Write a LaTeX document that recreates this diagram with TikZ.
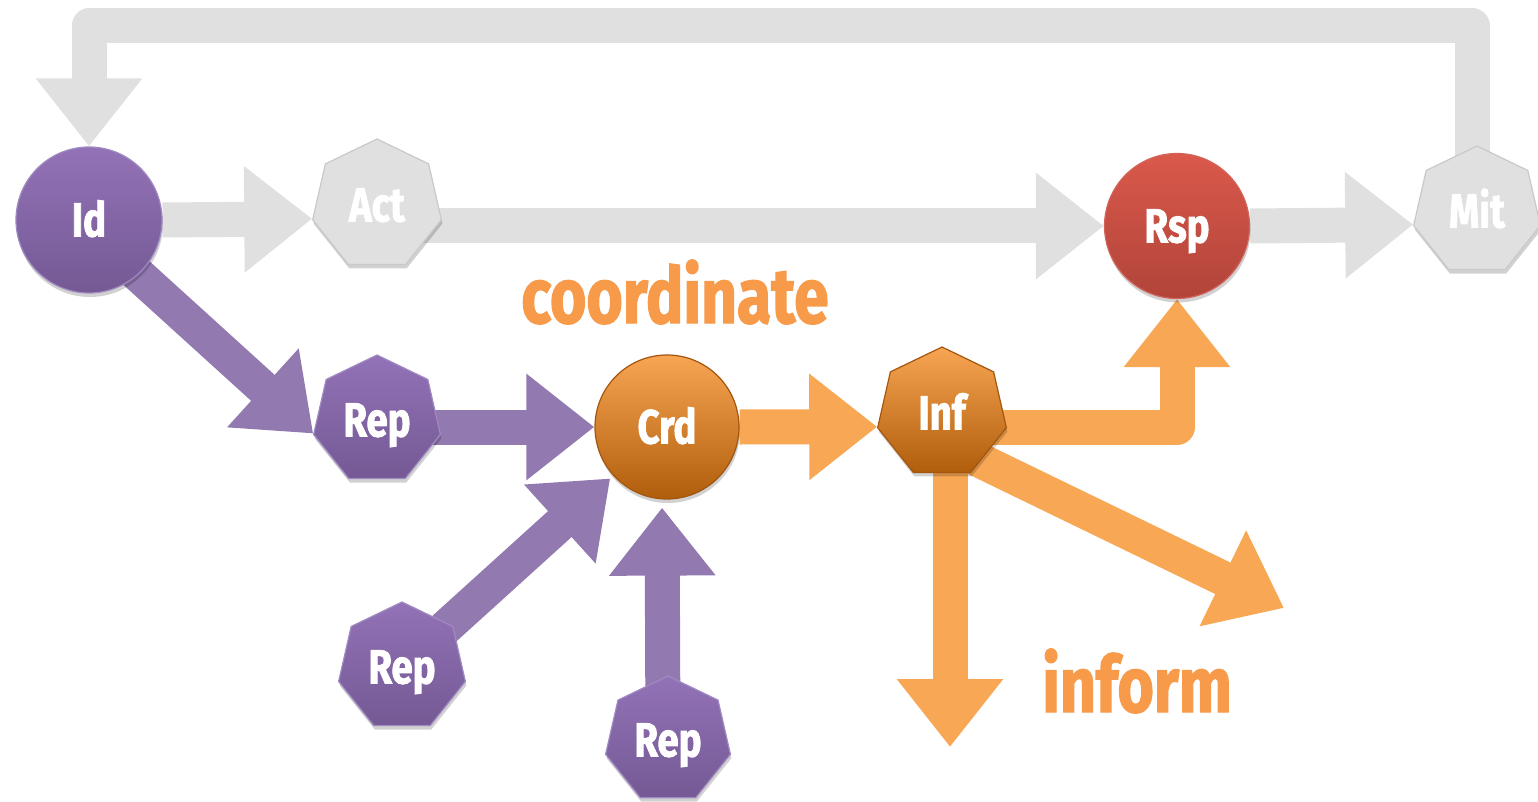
\documentclass[tikz,border=0pt]{standalone}
\usepackage{fontspec}
\newfontfamily\lblfont[FakeStretch=0.8, BoldFeatures={FakeBold=1.6}]{Fira Sans}
\usetikzlibrary{shapes.geometric,arrows.meta,backgrounds,shadows}
\definecolor{pTop}{HTML}{9372B7}
\definecolor{pBot}{HTML}{745994}
\definecolor{pBorder}{HTML}{A08AC2}
\definecolor{pArrow}{HTML}{927AB0}
\definecolor{gFill}{HTML}{E0E0E0}
\definecolor{gBorder}{HTML}{C9C9C9}
\definecolor{oArrow}{HTML}{F8A855}
\definecolor{oTop}{HTML}{F7A552}
\definecolor{oBot}{HTML}{B05E0C}
\definecolor{oBorder}{HTML}{A4560E}
\definecolor{rTop}{HTML}{DA594B}
\definecolor{rBot}{HTML}{B1443A}
\definecolor{rBorder}{HTML}{D2645B}
\definecolor{oText}{HTML}{F79A49}
\tikzset{
  lbl/.style={font=\lblfont\bfseries\fontsize{48}{48}\selectfont, text=white, text height=33pt, text depth=0pt, inner sep=0pt},
  shd/.style={drop shadow={shadow xshift=1pt, shadow yshift=-4pt, opacity=0.18, fill=black}},
  circnode/.style={circle, lbl, shd, line width=1.2pt},
  heptnode/.style={regular polygon, regular polygon sides=7, lbl, shd, line width=1.2pt, minimum size=#1},
  blk/.style={line width=35pt, -{Triangle[length=68pt,width=102pt]}},
  greyarrow/.style={blk, draw=gFill},
  purparrow/.style={blk, draw=pArrow},
  orarrow/.style={blk, draw=oArrow},
  bigword/.style={font=\lblfont\bfseries\fontsize{78}{78}\selectfont, text=oText, inner sep=0pt, anchor=base}
}
\begin{document}
\begin{tikzpicture}[x=1pt,y=-1pt]
\useasboundingbox (0,0) rectangle (1538,802);
% nodes
\node[circnode, top color=pTop, bottom color=pBot, draw=pBorder, minimum size=146pt] (id) at (89,220) {Id};
\node[heptnode=132pt, fill=gFill, draw=gBorder] (act) at (377,205) {Act};
\node[circnode, top color=rTop, bottom color=rBot, draw=rBorder, minimum size=145pt] (rsp) at (1177,226) {Rsp};
\node[heptnode=130pt, fill=gFill, draw=gBorder] (mit) at (1477,211) {Mit};
\node[heptnode=130pt, top color=pTop, bottom color=pBot, draw=pBorder] (rep1) at (377,420) {Rep};
\node[circnode, top color=oTop, bottom color=oBot, draw=oBorder, minimum size=144pt] (crd) at (667,427) {Crd};
\node[heptnode=132pt, top color=oTop, bottom color=oBot, draw=oBorder] (inf) at (942,413) {Inf};
\node[heptnode=130pt, top color=pTop, bottom color=pBot, draw=pBorder] (rep2) at (402,667) {Rep};
\node[heptnode=128pt, top color=pTop, bottom color=pBot, draw=pBorder] (rep3) at (668,740) {Rep};
\node[bigword] (tcoord) at (675,323) {coordinate};
\node[bigword] (tinform) at (1137,712) {inform};
\coordinate (loopL) at (89,26);
\coordinate (infdown) at (950,747);
\coordinate (infdiag) at (1284,608);
\begin{pgfonlayer}{background}
\fill[white] (0,0) rectangle (1538,802);
% grey
\draw[greyarrow, line join=round] ([xshift=-5pt]mit.center) |- (loopL) -- (id.north);
\draw[greyarrow] (id.east) -- (act.192.86);
\draw[greyarrow] (act.center |- rsp.west) -- (rsp.west);
\draw[greyarrow] (rsp.east) -- (mit.192.86);
% purple
\draw[purparrow] ([yshift=-10pt]id.center) -- (rep1.192.86);
\draw[purparrow] (rep1.center |- crd.west) -- (crd.west);
\draw[purparrow, shorten >=4pt] (rep2.center) -- (crd);
\draw[purparrow, shorten >=8pt] ([xshift=-5pt]rep3.center) -- ([xshift=-5pt]crd.south);
% orange
\draw[orarrow] (crd.east) -- (inf.192.86);
\draw[orarrow, line join=round] ([yshift=-14pt]inf.center) -| (rsp.south);
\draw[orarrow] ([xshift=8pt]inf.center) -- (infdown);
\draw[orarrow] ([yshift=-29pt]inf.center) -- (infdiag);
\end{pgfonlayer}
\end{tikzpicture}
\end{document}
